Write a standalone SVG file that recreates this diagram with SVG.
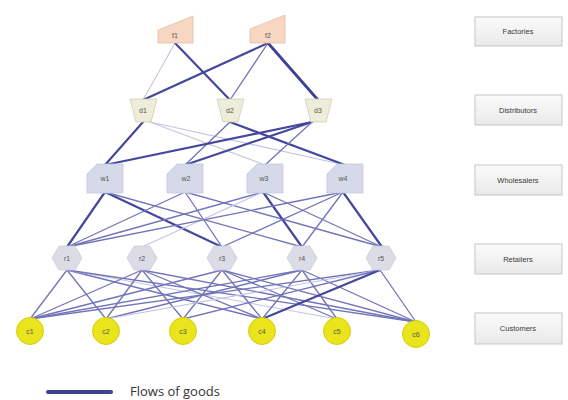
<svg xmlns="http://www.w3.org/2000/svg" width="568" height="400" viewBox="0 0 568 400">
  <style>
    .e { fill: none; stroke-linecap: round; }
    .dk { stroke: #45489c; stroke-width: 2.2; }
    .xk { stroke: #3e4196; stroke-width: 2.8; }
    .md { stroke: #7174b8; stroke-width: 1.3; }
    .lt { stroke: #c3c6e2; stroke-width: 1.1; }
    .lbl { font-family: "Liberation Sans", Arial, sans-serif; font-size: 7px; fill: #555; text-anchor: middle; }
    .tier rect { fill: url(#boxfill); stroke: #c6c6c6; stroke-width: 1; }
    .tier text { font-family: "Liberation Sans", Arial, sans-serif; font-size: 7.5px; fill: #3a3a3a; text-anchor: middle; }
    .fac { fill: #f7d6c2; stroke: #e4bfa8; stroke-width: 0.8; }
    .dis { fill: #ededd9; stroke: #cfcfb4; stroke-width: 0.8; }
    .who { fill: #d5d9ea; stroke: #c5c9de; stroke-width: 0.8; }
    .ret { fill: #dcdce7; stroke: #cdcddc; stroke-width: 0.8; }
    .cus { fill: #e9e41c; stroke: #d4cf10; stroke-width: 1; }
  </style>
  <defs>
    <linearGradient id="boxfill" x1="0" y1="0" x2="0" y2="1">
      <stop offset="0" stop-color="#fbfbfb"/>
      <stop offset="1" stop-color="#e9e9e9"/>
    </linearGradient>
  </defs>
  <rect width="568" height="400" fill="#ffffff"/>

  <!-- connectors: flows of goods between tiers -->
  <g id="connectors" class="e">
    <!-- factories to distributors -->
    <line class="lt" x1="175" y1="43" x2="143" y2="100"/>
    <line class="dk" x1="175" y1="43" x2="230" y2="100"/>
    <line class="dk" x1="268" y1="43" x2="143" y2="100"/>
    <line class="md" x1="268" y1="43" x2="230" y2="100"/>
    <line class="xk" x1="268" y1="43" x2="318" y2="100"/>
    <!-- distributors to wholesalers -->
    <line class="dk" x1="143" y1="122" x2="105" y2="165"/>
    <line class="lt" x1="150" y1="122" x2="265" y2="165"/>
    <line class="lt" x1="150" y1="122" x2="345" y2="165"/>
    <line class="md" x1="230" y1="122" x2="185" y2="165"/>
    <line class="dk" x1="230" y1="122" x2="345" y2="165"/>
    <line class="dk" x1="312" y1="122" x2="105" y2="165"/>
    <line class="dk" x1="312" y1="122" x2="185" y2="165"/>
    <line class="md" x1="312" y1="122" x2="265" y2="165"/>
    <!-- wholesalers to retailers -->
    <line class="dk" x1="105" y1="192" x2="67" y2="247"/>
    <line class="dk" x1="105" y1="192" x2="222" y2="247"/>
    <line class="md" x1="105" y1="192" x2="302" y2="247"/>
    <line class="md" x1="185" y1="192" x2="67" y2="247"/>
    <line class="md" x1="185" y1="192" x2="222" y2="247"/>
    <line class="md" x1="185" y1="192" x2="382" y2="247"/>
    <line class="md" x1="263" y1="192" x2="67" y2="247"/>
    <line class="lt" x1="263" y1="192" x2="142" y2="247"/>
    <line class="dk" x1="263" y1="192" x2="302" y2="247"/>
    <line class="md" x1="263" y1="192" x2="382" y2="247"/>
    <line class="md" x1="343" y1="192" x2="222" y2="247"/>
    <line class="md" x1="343" y1="192" x2="67" y2="247"/>
    <line class="md" x1="343" y1="192" x2="302" y2="247"/>
    <line class="dk" x1="343" y1="192" x2="382" y2="247"/>
    <!-- retailers to customers -->
    <line class="md" x1="67" y1="270" x2="30" y2="319"/>
    <line class="md" x1="67" y1="270" x2="106" y2="319"/>
    <line class="md" x1="67" y1="270" x2="262" y2="319"/>
    <line class="lt" x1="67" y1="270" x2="337" y2="319"/>
    <line class="md" x1="67" y1="270" x2="416" y2="322"/>
    <line class="md" x1="142" y1="270" x2="30" y2="319"/>
    <line class="md" x1="142" y1="270" x2="106" y2="319"/>
    <line class="md" x1="142" y1="270" x2="183" y2="319"/>
    <line class="md" x1="142" y1="270" x2="262" y2="319"/>
    <line class="md" x1="142" y1="270" x2="416" y2="322"/>
    <line class="md" x1="222" y1="270" x2="30" y2="319"/>
    <line class="md" x1="222" y1="270" x2="183" y2="319"/>
    <line class="md" x1="222" y1="270" x2="262" y2="319"/>
    <line class="md" x1="222" y1="270" x2="337" y2="319"/>
    <line class="md" x1="222" y1="270" x2="416" y2="322"/>
    <line class="md" x1="302" y1="270" x2="30" y2="319"/>
    <line class="md" x1="302" y1="270" x2="106" y2="319"/>
    <line class="md" x1="302" y1="270" x2="262" y2="319"/>
    <line class="md" x1="302" y1="270" x2="337" y2="319"/>
    <line class="md" x1="302" y1="270" x2="416" y2="322"/>
    <line class="md" x1="380" y1="270" x2="30" y2="319"/>
    <line class="lt" x1="380" y1="270" x2="106" y2="319"/>
    <line class="md" x1="380" y1="270" x2="183" y2="319"/>
    <line class="dk" x1="380" y1="270" x2="262" y2="319"/>
    <line class="md" x1="380" y1="270" x2="416" y2="322"/>
  </g>

  <!-- factories -->
  <g id="f1"><polygon class="fac" points="158,30 193,16 193,43 158,43"/><text class="lbl" x="175" y="38">f1</text></g>
  <g id="f2"><polygon class="fac" points="250,29 285,15 285,43 250,43"/><text class="lbl" x="268" y="38">f2</text></g>

  <!-- distributors -->
  <g id="d1"><polygon class="dis" points="130,99 157,99 151,122 136,122"/><text class="lbl" x="143" y="113">d1</text></g>
  <g id="d2"><polygon class="dis" points="217,99 244,99 238,122 223,122"/><text class="lbl" x="230" y="113">d2</text></g>
  <g id="d3"><polygon class="dis" points="305,99 332,99 326,122 311,122"/><text class="lbl" x="318" y="113">d3</text></g>

  <!-- wholesalers -->
  <g id="w1"><polygon class="who" points="97,164 123,164 123,193 87,193 87,174"/><text class="lbl" x="105" y="181">w1</text></g>
  <g id="w2"><polygon class="who" points="177,164 203,164 203,193 167,193 167,174"/><text class="lbl" x="186" y="181">w2</text></g>
  <g id="w3"><polygon class="who" points="257,164 283,164 283,193 247,193 247,174"/><text class="lbl" x="264" y="181">w3</text></g>
  <g id="w4"><polygon class="who" points="337,164 363,164 363,193 327,193 327,174"/><text class="lbl" x="343" y="181">w4</text></g>

  <!-- retailers -->
  <g id="r1"><polygon class="ret" points="52,258 59,246 75,246 82,258 75,270 59,270"/><text class="lbl" x="67" y="261">r1</text></g>
  <g id="r2"><polygon class="ret" points="127,258 134,246 150,246 157,258 150,270 134,270"/><text class="lbl" x="142" y="261">r2</text></g>
  <g id="r3"><polygon class="ret" points="207,258 214,246 230,246 237,258 230,270 214,270"/><text class="lbl" x="222" y="261">r3</text></g>
  <g id="r4"><polygon class="ret" points="287,258 294,246 310,246 317,258 310,270 294,270"/><text class="lbl" x="302" y="261">r4</text></g>
  <g id="r5"><polygon class="ret" points="366,258 373,246 389,246 396,258 389,270 373,270"/><text class="lbl" x="381" y="261">r5</text></g>

  <!-- customers -->
  <g id="c1"><circle class="cus" cx="30" cy="331" r="13.5"/><text class="lbl" x="30" y="334">c1</text></g>
  <g id="c2"><circle class="cus" cx="106" cy="331" r="13.5"/><text class="lbl" x="106" y="334">c2</text></g>
  <g id="c3"><circle class="cus" cx="183" cy="331" r="13.5"/><text class="lbl" x="183" y="334">c3</text></g>
  <g id="c4"><circle class="cus" cx="262" cy="331" r="13.5"/><text class="lbl" x="262" y="334">c4</text></g>
  <g id="c5"><circle class="cus" cx="337" cy="331" r="13.5"/><text class="lbl" x="337" y="334">c5</text></g>
  <g id="c6"><circle class="cus" cx="416" cy="334" r="13.5"/><text class="lbl" x="416" y="337">c6</text></g>

  <!-- tier labels -->
  <g id="tier-factories" class="tier"><rect x="475" y="17" width="87" height="29"/><text x="518" y="34">Factories</text></g>
  <g id="tier-distributors" class="tier"><rect x="475" y="95" width="87" height="30"/><text x="518" y="113">Distributors</text></g>
  <g id="tier-wholesalers" class="tier"><rect x="475" y="165" width="87" height="30"/><text x="518" y="183">Wholesalers</text></g>
  <g id="tier-retailers" class="tier"><rect x="475" y="244" width="87" height="30"/><text x="518" y="262">Retailers</text></g>
  <g id="tier-customers" class="tier"><rect x="475" y="313" width="87" height="31"/><text x="518" y="331">Customers</text></g>

  <!-- legend -->
  <g id="legend">
    <line x1="48" y1="392" x2="111" y2="392" stroke="#3e4196" stroke-width="4" stroke-linecap="round"/>
    <text x="130" y="396" font-family="'Open Sans', 'Liberation Sans', sans-serif" font-size="13" fill="#333">Flows of goods</text>
  </g>
</svg>
